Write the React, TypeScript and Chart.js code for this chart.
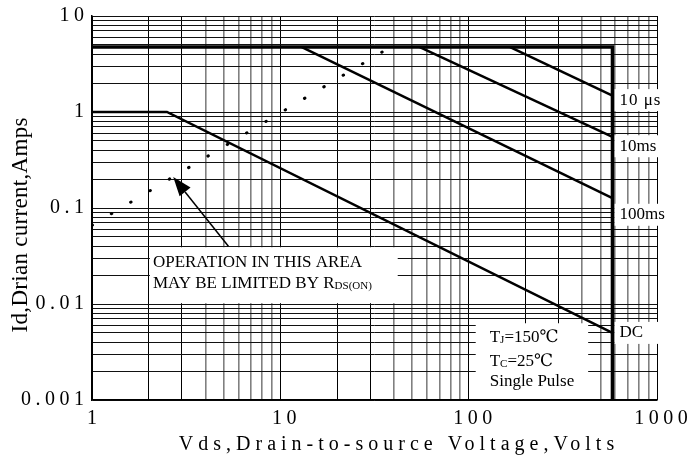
import React, { useEffect, useRef } from "react";
import { Chart, registerables } from "chart.js";

Chart.register(...registerables);

// ---- Axis ticks ----
const X_TICKS = [1, 10, 100, 1000];
const X_TICK_LABELS = ["1", "10", "100", "1000"];
const Y_TICKS = [0.001, 0.01, 0.1, 1, 10];
const Y_TICK_LABELS = ["0.001", "0.01", "0.1", "1", "10"];
const GRID_STEPS = [1, 2, 3, 4, 5, 6, 7, 8, 9];

// ---- Safe operating area curves (Vds in volts, Id in amps) ----
const LIMIT_V = [1, 580, 580];
const LIMIT_I = [4.75, 4.75, 0.001];
const US10_V = [166, 580];
const US10_I = [4.75, 1.48];
const MS10_V = [55, 580];
const MS10_I = [4.75, 0.55];
const MS100_V = [13, 580];
const MS100_I = [4.75, 0.127];
const DC_V = [1, 2.5, 580];
const DC_I = [1, 1, 0.005];
const RDS_V = [1, 36];
const RDS_I = [0.066, 4.4];

const CURVE_LABELS = ["10 μs", "10ms", "100ms", "DC"];
const CURVE_LABEL_I = [1.33, 0.44, 0.085, 0.005];
const CURVE_LABEL_V = 580;

// ---- Annotations (data coordinates) ----
const OP_BOX_V = [2.03, 42];
const OP_BOX_I = [0.0102, 0.039];
const ARROW_V = [5.3, 2.7]; // tail, tip
const ARROW_I = [0.04, 0.21];
const COND_BOX_V = [109, 431];
const COND_BOX_I = [0.001, 0.0063];

const SERIF = '"Liberation Serif", "DejaVu Serif", "Times New Roman", serif';

function gridValues(decades: number[]) {
  const out: number[] = [];
  for (let i = 0; i < decades.length - 1; i++) {
    for (const m of GRID_STEPS) out.push(parseFloat((decades[i] * m).toPrecision(6)));
  }
  out.push(decades[decades.length - 1]);
  return out;
}

function mantissa(v: number) {
  const e = Math.floor(Math.log10(v) + 1e-9);
  return Math.round(v / Math.pow(10, e));
}

function series(v: number[], i: number[], width: number, extra: any = {}) {
  return {
    data: v.map((x, k) => ({ x, y: i[k] })),
    borderColor: "#000",
    borderWidth: width,
    pointRadius: 0,
    fill: false,
    tension: 0,
    ...extra,
  };
}

function spacedText(ctx: CanvasRenderingContext2D, text: string, x: number, y: number, spacing: number, align: "left" | "center" | "right") {
  (ctx as any).letterSpacing = spacing + "px";
  const w = ctx.measureText(text).width - spacing;
  const sx = align === "center" ? x - w / 2 : align === "right" ? x - w : x;
  ctx.textAlign = "left";
  ctx.fillText(text, sx, y);
  (ctx as any).letterSpacing = "0px";
  return w;
}

function richText(ctx: CanvasRenderingContext2D, parts: [string, boolean][], x: number, y: number, size: number, subSize: number) {
  let cx = x;
  ctx.textAlign = "left";
  for (const [t, sub] of parts) {
    ctx.font = `${sub ? subSize : size}px ${SERIF}`;
    ctx.fillText(t, cx, sub ? y + 3 : y);
    cx += ctx.measureText(t).width;
  }
}

function boxes(chart: any) {
  const { x, y } = chart.scales;
  const rect = (vv: number[], ii: number[]) => {
    const l = x.getPixelForValue(vv[0]);
    const r = x.getPixelForValue(vv[1]);
    const t = y.getPixelForValue(ii[1]);
    const b = y.getPixelForValue(ii[0]);
    return { l, r, t, b };
  };
  return { op: rect(OP_BOX_V, OP_BOX_I), cond: rect(COND_BOX_V, COND_BOX_I) };
}

const overlay = {
  id: "overlay",
  beforeDatasetsDraw(chart: any) {
    const { ctx } = chart;
    const { x, y } = chart.scales;
    const { op, cond } = boxes(chart);
    ctx.save();
    ctx.fillStyle = "#fff";
    ctx.fillRect(op.l, op.t, op.r - op.l, op.b - op.t);
    ctx.fillRect(cond.l, cond.t, cond.r - cond.l, cond.b - cond.t - 1);
    const lx = x.getPixelForValue(CURVE_LABEL_V);
    CURVE_LABEL_I.forEach((iv) => {
      const yc = y.getPixelForValue(iv);
      ctx.fillRect(lx + 2, yc - 11, 60, 22);
    });
    ctx.restore();
  },
  afterDraw(chart: any) {
    const { ctx } = chart;
    const { x, y } = chart.scales;
    const { op, cond } = boxes(chart);
    ctx.save();
    ctx.fillStyle = "#000";
    ctx.strokeStyle = "#000";
    ctx.textBaseline = "middle";

    // tick labels
    ctx.font = `20px ${SERIF}`;
    X_TICKS.forEach((v, k) => {
      spacedText(ctx, X_TICK_LABELS[k], x.getPixelForValue(v) + (k === 0 ? 0 : 4), y.bottom + 19, 4.5, "center");
    });
    Y_TICKS.forEach((v, k) => {
      spacedText(ctx, Y_TICK_LABELS[k], x.left - 8, y.getPixelForValue(v), 4.5, "right");
    });

    // axis titles
    ctx.font = `20px ${SERIF}`;
    spacedText(ctx, "Vds,Drain-to-source Voltage,Volts", (x.left + x.right) / 2 + 22, y.bottom + 45, 5, "center");
    ctx.save();
    ctx.translate(21, (y.top + y.bottom) / 2 + 17);
    ctx.rotate(-Math.PI / 2);
    ctx.font = `23px ${SERIF}`;
    spacedText(ctx, "Id,Drian current,Amps", 0, 0, 0.3, "center");
    ctx.restore();

    // curve labels
    ctx.font = `17px ${SERIF}`;
    const lx = x.getPixelForValue(CURVE_LABEL_V);
    CURVE_LABELS.forEach((t, k) => {
      spacedText(ctx, t, lx + 7, y.getPixelForValue(CURVE_LABEL_I[k]), k === 0 ? 1 : 0, "left");
    });

    // operation annotation
    richText(ctx, [["OPERATION IN THIS AREA", false]], op.l + 3, op.t + 15, 17, 11);
    richText(ctx, [["MAY BE LIMITED BY R", false], ["DS(ON)", true]], op.l + 3, op.t + 36, 17, 11);

    // arrow
    const tx = x.getPixelForValue(ARROW_V[1]);
    const ty = y.getPixelForValue(ARROW_I[1]);
    const sx = x.getPixelForValue(ARROW_V[0]);
    const sy = y.getPixelForValue(ARROW_I[0]);
    const ang = Math.atan2(ty - sy, tx - sx);
    const hl = 19, hw = 7;
    const bx = tx - hl * Math.cos(ang), by = ty - hl * Math.sin(ang);
    ctx.lineWidth = 1.5;
    ctx.beginPath();
    ctx.moveTo(sx, sy);
    ctx.lineTo(bx, by);
    ctx.stroke();
    ctx.beginPath();
    ctx.moveTo(tx, ty);
    ctx.lineTo(bx + hw * Math.sin(ang), by - hw * Math.cos(ang));
    ctx.lineTo(bx - hw * Math.sin(ang), by + hw * Math.cos(ang));
    ctx.closePath();
    ctx.fill();

    // conditions
    const cx = cond.l + 14;
    richText(ctx, [["T", false], ["J", true], ["=150℃", false]], cx, cond.t + 14, 17, 11);
    richText(ctx, [["T", false], ["C", true], ["=25℃", false]], cx, cond.t + 38, 17, 11);
    richText(ctx, [["Single Pulse", false]], cx, cond.t + 58, 17, 11);
    ctx.restore();
  },
};

export default function App() {
  const ref = useRef<HTMLCanvasElement | null>(null);
  useEffect(() => {
    document.body.style.margin = "0";
    const canvas = ref.current!;
    const xGrid = gridValues(X_TICKS);
    const yGrid = gridValues(Y_TICKS);
    const chart = new Chart(canvas, {
      type: "line",
      data: {
        datasets: [
          series(LIMIT_V, LIMIT_I, 3.5),
          series(US10_V, US10_I, 2.5),
          series(MS10_V, MS10_I, 2.5),
          series(MS100_V, MS100_I, 2.5),
          series(DC_V, DC_I, 2.5),
          series(RDS_V, RDS_I, 3, { borderDash: [0.5, 22], borderCapStyle: "round" }),
        ] as any,
      },
      options: {
        responsive: false,
        animation: false,
        events: [],
        layout: { padding: { left: 92, right: 39, top: 16, bottom: 66 } },
        plugins: { legend: { display: false }, tooltip: { enabled: false } },
        scales: {
          x: {
            type: "logarithmic",
            min: 1,
            max: 1000,
            afterBuildTicks: (s: any) => {
              s.ticks = xGrid.map((value) => ({ value }));
            },
            ticks: { display: false },
            grid: {
              drawTicks: false,
              color: (c: any) => (mantissa(c.tick.value) <= 3 ? "#000" : "#808080"),
              lineWidth: (c: any) => (mantissa(c.tick.value) <= 3 ? 1 : 1.6),
            },
            border: { display: true, color: "#000", width: 1.5 },
          },
          y: {
            type: "logarithmic",
            min: 0.001,
            max: 10,
            afterBuildTicks: (s: any) => {
              s.ticks = yGrid.map((value) => ({ value }));
            },
            ticks: { display: false },
            grid: { drawTicks: false, color: "#111", lineWidth: 1 },
            border: { display: true, color: "#000", width: 1.5 },
          },
        },
      } as any,
      plugins: [overlay],
    });
    return () => chart.destroy();
  }, []);
  return <canvas ref={ref} width={696} height={466} style={{ display: "block", width: 696, height: 466 }} />;
}
